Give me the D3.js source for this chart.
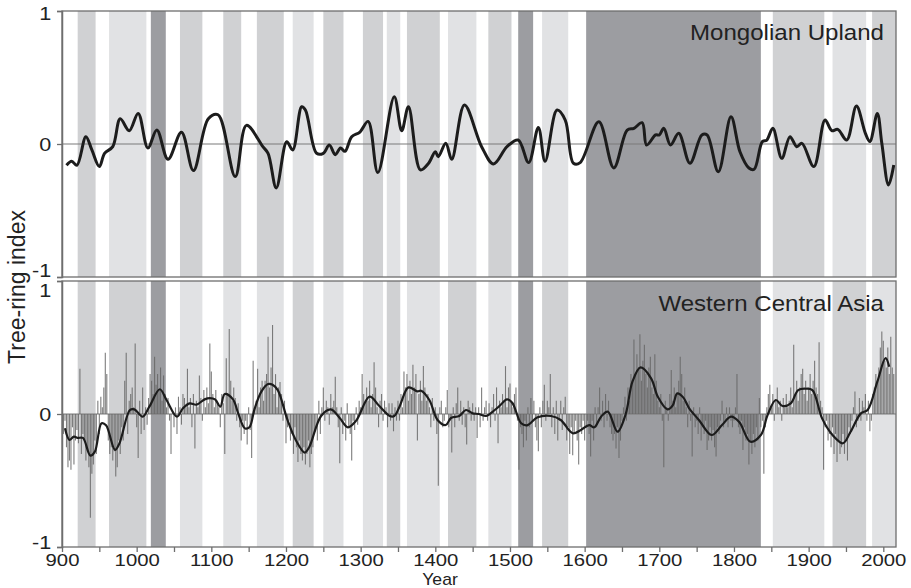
<!DOCTYPE html>
<html>
<head>
<meta charset="utf-8">
<script src="https://cdn.jsdelivr.net/npm/d3@7"></script>
<style>
  body { margin: 0; background: #fff; }
  text { font-family: "Liberation Sans", Arial, sans-serif; fill: #222; }
</style>
</head>
<body>
<svg id="svg" width="911" height="588"></svg>
<script>
// shaded periods (years), shade class per panel: L light, M medium, D dark
const bandStart = [921, 963, 1019, 1058, 1116, 1161, 1209, 1250, 1303, 1335, 1362, 1417, 1471, 1511, 1543, 1602, 1852, 1932, 1985];
const bandEnd   = [945, 1013, 1039, 1088, 1140, 1197, 1237, 1277, 1330, 1353, 1406, 1455, 1502, 1531, 1578, 1836, 1921, 1977, 2017];
const bandTop    = ["M","L","D","M","M","M","L","M","M","L","M","L","M","D","L","D","M","L","M"];
const bandBottom = ["M","M","D","L","L","L","M","L","L","M","L","M","L","D","M","D","L","M","L"];

// Mongolian Upland, smoothed tree-ring index
const mongYears = [906, 913, 920, 932, 940, 950, 957, 968, 978, 990, 1002, 1015, 1027, 1042, 1060, 1076, 1096, 1109, 1132, 1147,
  1169, 1176, 1187, 1201, 1209, 1221, 1226, 1241, 1250, 1258, 1266, 1273, 1279, 1288, 1299, 1310, 1323, 1345, 1355, 1364,
  1380, 1391, 1400, 1404, 1414, 1422, 1439, 1462, 1478, 1496, 1511, 1525, 1538, 1547, 1563, 1574, 1585, 1594, 1619, 1639,
  1657, 1666, 1677, 1683, 1695, 1700, 1706, 1715, 1726, 1741, 1757, 1764, 1779, 1796, 1808, 1820, 1827, 1838, 1844, 1852,
  1864, 1875, 1884, 1891, 1907, 1922, 1931, 1939, 1951, 1964, 1976, 1982, 1992, 1998, 2007, 2014];
const mongVals = [-0.16, -0.13, -0.16, 0.055, -0.045, -0.17, -0.07, -0.02, 0.19, 0.10, 0.23, -0.03, 0.105, -0.115, 0.088, -0.20, 0.19, 0.22, -0.245, 0.14,
  -0.02, -0.07, -0.33, 0.017, -0.045, 0.28, 0.255, -0.07, -0.07, -0.008, -0.08, -0.03, -0.055, 0.055, 0.09, 0.17, -0.215, 0.355, 0.10, 0.28,
  -0.195, -0.145, -0.058, -0.095, 0.005, -0.115, 0.293, -0.02, -0.15, -0.02, 0.03, -0.14, 0.125, -0.13, 0.255, 0.18, -0.145, -0.14, 0.167, -0.18,
  0.105, 0.118, 0.16, -0.008, 0.068, 0.068, 0.118, -0.008, 0.08, -0.145, 0.068, 0.068, -0.208, 0.205, -0.058, -0.18, -0.19, 0.018, 0.03, 0.118,
  -0.108, 0.055, -0.02, 0.005, -0.17, 0.18, 0.10, 0.11, 0.03, 0.285, 0.08, 0.018, 0.23, 0.005, -0.308, -0.158];

// Western Central Asia, smoothed line
const wcaYears = [904, 910, 916, 921, 928, 938, 944, 953, 959, 971, 977, 991, 997, 1008, 1017, 1031, 1040, 1054, 1062, 1071,
  1080, 1091, 1098, 1105, 1112, 1118, 1129, 1136, 1145, 1151, 1158, 1167, 1176, 1182, 1189, 1202, 1213, 1225, 1231, 1247,
  1260, 1272, 1283, 1294, 1312, 1325, 1339, 1345, 1352, 1364, 1376, 1381, 1392, 1403, 1414, 1421, 1432, 1441, 1450, 1458,
  1468, 1474, 1485, 1496, 1503, 1515, 1523, 1537, 1555, 1568, 1584, 1595, 1606, 1613, 1622, 1631, 1644, 1655, 1664, 1675,
  1689, 1698, 1711, 1718, 1724, 1732, 1740, 1753, 1770, 1784, 1796, 1807, 1822, 1836, 1845, 1856, 1865, 1876, 1886, 1896,
  1905, 1918, 1932, 1946, 1956, 1970, 1979, 1992, 2003, 2008];
const wcaVals = [-0.108, -0.195, -0.17, -0.18, -0.18, -0.313, -0.283, -0.07, -0.085, -0.27, -0.22, 0.03, 0.035, -0.02, 0.055, 0.186, 0.105, -0.02, 0.043, 0.08,
  0.07, 0.11, 0.12, 0.11, 0.055, 0.15, 0.11, 0.005, -0.108, -0.10, 0.04, 0.168, 0.225, 0.22, 0.18, -0.045, -0.195, -0.29, -0.25, -0.015,
  0.035, -0.03, -0.10, -0.05, 0.13, 0.06, -0.015, -0.015, 0.055, 0.20, 0.17, 0.175, 0.105, -0.045, -0.083, -0.03, -0.015, 0.03, 0.005, 0.0,
  -0.015, 0.005, 0.055, 0.11, 0.085, -0.07, -0.085, -0.025, -0.015, -0.045, -0.145, -0.12, -0.083, -0.10, -0.02, 0.018, -0.133, 0.0, 0.243, 0.35,
  0.268, 0.13, 0.035, 0.065, 0.155, 0.125, 0.043, -0.045, -0.158, -0.083, -0.02, -0.06, -0.208, -0.158, -0.008, 0.105, 0.06, 0.08, 0.18, 0.19,
  0.18, -0.033, -0.158, -0.22, -0.135, 0.005, 0.03, 0.243, 0.42, 0.355];

// Western Central Asia, yearly bars (every second year from 902)
const barFirstYear = 902;
const barVals = [
  -0.15, -0.05, -0.25, -0.40,
  -0.35, -0.42, -0.10, -0.38, -0.20,   -0.12, -0.22, 0.34, -0.30, -0.15,   -0.20, -0.35, -0.28, -0.40, -0.78,
  -0.45, -0.38, -0.20, -0.30, 0.10,    -0.15, 0.13, 0.05, 0.20, 0.46,      0.30, -0.20, -0.30, -0.25, -0.35,
  -0.28, -0.47, -0.40, -0.20, -0.30,   -0.10, -0.20, 0.25, 0.46, -0.15,    0.10, 0.15, 0.20, 0.05, 0.53,
  -0.10, -0.33, 0.10, -0.15, 0.20,     -0.12, 0.05, -0.08, 0.12, 0.30,     0.25, 0.15, 0.43, 0.22, 0.30,
  0.18, 0.35, 0.10, 0.29, 0.15,        0.05, 0.12, -0.05, -0.30, 0.02,     -0.10, 0.05, -0.15, 0.13, 0.05,
  -0.08, 0.15, 0.12, 0.05, 0.34,       0.05, 0.12, -0.10, 0.15, -0.26,     0.10, 0.05, 0.29, 0.12, -0.05,
  0.18, 0.05, 0.20, 0.08, 0.53,        0.32, 0.15, 0.05, 0.18, 0.10,       0.05, -0.10, 0.15, 0.08, -0.30,
  0.42, 0.15, 0.64, 0.25, 0.10,        0.20, 0.12, -0.05, 0.08, -0.10,     -0.20, -0.05, -0.15, -0.05, -0.23,
  0.05, -0.12, -0.33, 0.40, 0.05,      0.10, 0.34, 0.05, 0.20, 0.25,       0.10, 0.25, 0.30, 0.58, 0.20,
  0.35, 0.67, 0.15, 0.30, 0.05,        0.20, 0.24, 0.15, -0.05, 0.10,      -0.22, -0.10, -0.05, -0.20, -0.15,
  -0.30, -0.10, -0.25, -0.36, -0.20,   -0.30, -0.35, -0.25, -0.38, -0.30,  -0.20, -0.40, -0.30, -0.25, -0.15,
  -0.10, -0.20, 0.10, -0.15, 0.05,     0.20, -0.05, 0.10, 0.05, -0.08,     0.15, 0.05, 0.10, 0.28, 0.05,
  -0.10, -0.37, 0.05, -0.15, -0.05,    -0.20, 0.08, -0.10, -0.15, -0.35,   -0.05, -0.12, 0.05, -0.08, 0.10,
  0.05, 0.30, 0.15, 0.10, 0.20,        0.10, 0.25, 0.05, 0.15, 0.39,       0.20, 0.05, -0.10, 0.10, 0.15,
  -0.05, 0.10, 0.05, -0.10, 0.08,      -0.05, 0.08, -0.13, 0.05, -0.05,    0.10, -0.05, 0.15, 0.05, 0.32,
  0.20, 0.30, 0.10, 0.25, 0.15,        0.37, 0.20, 0.30, -0.20, 0.15,      0.25, 0.10, 0.36, 0.20, 0.10,
  0.15, 0.05, -0.10, 0.12, -0.05,      0.05, -0.15, -0.54, 0.05, 0.10,     -0.10, -0.05, 0.05, 0.18, -0.10,
  -0.05, -0.29, 0.05, -0.10, 0.08,     0.20, -0.05, 0.10, -0.08, 0.05,     -0.10, -0.23, 0.10, 0.05, -0.05,
  0.08, -0.05, 0.05, -0.18, 0.05,      -0.10, 0.20, -0.05, 0.05, 0.10,     -0.05, 0.08, -0.10, 0.05, 0.15,
  -0.05, 0.20, -0.22, 0.10, 0.05,      0.15, 0.10, 0.36, 0.05, 0.20,       0.23, 0.10, 0.05, 0.15, 0.20,
  -0.05, -0.42, -0.10, -0.15, -0.25,   -0.05, -0.20, 0.05, -0.10, 0.12,    -0.05, 0.10, -0.10, -0.20, -0.28,
  0.05, -0.10, 0.10, 0.22, -0.05,      0.10, 0.05, 0.30, -0.10, 0.05,      -0.15, 0.10, -0.20, -0.05, 0.10,
  -0.12, 0.05, 0.13, -0.20, -0.10,     -0.30, -0.10, -0.31, -0.15, -0.05,  -0.20, -0.38, -0.10, -0.15, -0.05,
  -0.20, -0.10, -0.05, -0.15, -0.32,   -0.05, -0.20, 0.05, -0.10, 0.05,    0.20, -0.05, 0.10, -0.10, 0.15,
  -0.05, 0.10, -0.10, -0.15, -0.20,    -0.15, -0.26, -0.10, -0.33, -0.20,  -0.05, 0.05, 0.13, -0.05, 0.20,
  0.10, 0.30, 0.25, 0.56, 0.30,        0.45, 0.35, 0.60, 0.25, 0.40,       0.52, 0.30, 0.20, 0.35, 0.43,
  0.20, 0.15, 0.45, 0.25, 0.10,        0.05, 0.15, -0.05, -0.40, 0.10,     0.05, -0.05, 0.15, 0.33, 0.10,
  0.20, 0.05, 0.15, 0.25, 0.43,        0.30, 0.10, 0.20, 0.05, -0.10,      0.10, -0.05, -0.32, 0.05, -0.10,
  -0.05, -0.15, 0.05, -0.20, -0.10,    -0.15, -0.05, -0.27, -0.20, -0.10,  -0.20, -0.12, -0.25, -0.32, -0.10,
  -0.15, -0.05, 0.10, -0.10, -0.05,    0.05, -0.10, 0.05, -0.05, -0.10,    -0.05, 0.05, 0.30, -0.10, -0.15,
  -0.05, -0.27, -0.10, -0.20, -0.15,   -0.38, -0.20, -0.30, -0.15, -0.25,  -0.10, -0.20, 0.12, -0.10, -0.05,
  -0.45, -0.10, 0.05, 0.15, 0.22,      0.05, 0.15, -0.05, 0.10, 0.20,      0.05, 0.10, -0.05, 0.12, 0.05,
  0.15, 0.05, 0.10, 0.20, 0.05,        0.52, 0.15, 0.25, 0.10, 0.20,       0.30, 0.34, 0.15, 0.25, 0.10,
  0.20, 0.30, 0.15, 0.25, 0.40,        0.20, 0.15, 0.54, 0.10, 0.05,       -0.42, -0.10, -0.05, -0.20, -0.15,
  -0.25, -0.10, -0.30, -0.15, -0.36,   -0.20, -0.30, -0.25, -0.15, -0.30,  -0.20, -0.35, -0.10, -0.15, -0.05,
  0.05, 0.17, -0.10, -0.05, 0.12,      -0.05, 0.10, 0.05, 0.15, -0.05,     0.10, -0.13, -0.05, 0.15, 0.20,
  0.30, 0.25, 0.35, 0.50, 0.62,        0.55, 0.40, 0.35, 0.50, 0.30,       0.58, 0.35, 0.30
];

const yTicks = [-1, 0, 1];
const xTicks = d3.range(900, 2001, 50);

const svg = d3.select("#svg");
const x = d3.scaleLinear().domain([900, 2017]).range([62, 896]);
const shade = d3.scaleOrdinal().domain(["L", "M", "D"]).range(["#e1e2e4", "#d0d1d3", "#9c9da1"]);

const panels = [
  { id: "top", y0: 11, y1: 277, shades: bandTop, label: "Mongolian Upland", labelY: 40 },
  { id: "bot", y0: 281, y1: 547, shades: bandBottom, label: "Western Central Asia", labelY: 311 }
];

panels.forEach(p => {
  p.y = d3.scaleLinear().domain([-1, 1]).range([p.y1, p.y0]);
  svg.append("clipPath").attr("id", "clip-" + p.id)
    .append("rect").attr("x", x.range()[0]).attr("y", p.y0)
    .attr("width", x.range()[1] - x.range()[0]).attr("height", p.y1 - p.y0);
  const g = svg.append("g").attr("clip-path", "url(#clip-" + p.id + ")");

  g.selectAll("rect.band").data(bandStart).join("rect")
    .attr("class", "band")
    .attr("x", d => x(d))
    .attr("y", p.y0)
    .attr("width", (d, i) => x(bandEnd[i]) - x(d))
    .attr("height", p.y1 - p.y0)
    .attr("fill", (d, i) => shade(p.shades[i]));

  g.append("line")
    .attr("x1", x.range()[0]).attr("x2", x.range()[1])
    .attr("y1", p.y(0)).attr("y2", p.y(0))
    .attr("stroke", "#7a7a7a").attr("stroke-width", 1.2);
  p.g = g;
});

// top panel curve
const pTop = panels[0], pBot = panels[1];
const lineTop = d3.line().x((d, i) => x(mongYears[i])).y(d => pTop.y(d)).curve(d3.curveCatmullRom.alpha(0.5));
pTop.g.append("path").attr("d", lineTop(mongVals))
  .attr("fill", "none").attr("stroke", "#1c1c1c").attr("stroke-width", 3).attr("stroke-linejoin", "round");

// bottom panel bars + smoothed line
pBot.g.selectAll("line.bar").data(barVals).join("line")
  .attr("class", "bar")
  .attr("x1", (d, i) => x(barFirstYear + 2 * i)).attr("x2", (d, i) => x(barFirstYear + 2 * i))
  .attr("y1", pBot.y(0)).attr("y2", d => pBot.y(d))
  .attr("stroke", "#666").attr("stroke-width", 1.1).attr("stroke-opacity", 0.85);

const lineBot = d3.line().x((d, i) => x(wcaYears[i])).y(d => pBot.y(d)).curve(d3.curveCatmullRom.alpha(0.5));
pBot.g.append("path").attr("d", lineBot(wcaVals))
  .attr("fill", "none").attr("stroke", "#1c1c1c").attr("stroke-width", 2.2).attr("stroke-linejoin", "round");

panels.forEach((p, k) => {
  svg.append("rect")
    .attr("x", x.range()[0]).attr("y", p.y0)
    .attr("width", x.range()[1] - x.range()[0]).attr("height", p.y1 - p.y0)
    .attr("fill", "none").attr("stroke", "#6e6e6e").attr("stroke-width", 1.3);

  svg.append("text")
    .attr("transform", "translate(884," + p.labelY + ") scale(1.12,1)")
    .attr("text-anchor", "end")
    .style("font-size", "21.5px")
    .text(p.label);

  const ya = svg.append("g")
    .attr("transform", "translate(" + x.range()[0] + ",0)")
    .call(d3.axisLeft(p.y).tickValues(yTicks).tickSize(5).tickFormat(d3.format("d")));
  ya.select(".domain").attr("stroke", "#6e6e6e").attr("stroke-width", 1.5);
  ya.selectAll(".tick line").attr("stroke", "#6e6e6e").attr("stroke-width", 1.3);
  ya.selectAll(".tick text")
    .style("font-size", "18px").attr("x", -9).attr("fill", "#222")
    .attr("transform", "scale(1.2,1)")
    .attr("dy", d => {
      if (k === 0 && d === -1) return "-1px";
      if (k === 1 && d === 1) return "15px";
      if (k === 1 && d === -1) return "1px";
      if (k === 0 && d === 1) return "8px";
      return "6.5px";
    })
    .text(d => d === -1 ? "-1" : d);
});

const xa = svg.append("g")
  .attr("transform", "translate(0," + pBot.y1 + ")")
  .call(d3.axisBottom(x).tickValues(xTicks).tickSize(5).tickFormat(d => d % 100 === 0 ? d : ""));
xa.select(".domain").remove();
xa.selectAll(".tick line").attr("stroke", "#6e6e6e").attr("stroke-width", 1.3);
xa.selectAll(".tick text").style("font-size", "16px").attr("fill", "#222")
  .attr("y", 19.5).attr("dy", 0).attr("transform", "scale(1.27,1)");

svg.append("text")
  .attr("transform", "translate(440,584.5) scale(1.1,1)")
  .attr("text-anchor", "middle")
  .style("font-size", "16px")
  .text("Year");

svg.append("text")
  .attr("transform", "translate(25,287) rotate(-90)")
  .attr("text-anchor", "middle")
  .style("font-size", "23px")
  .text("Tree-ring index");
</script>
</body>
</html>
